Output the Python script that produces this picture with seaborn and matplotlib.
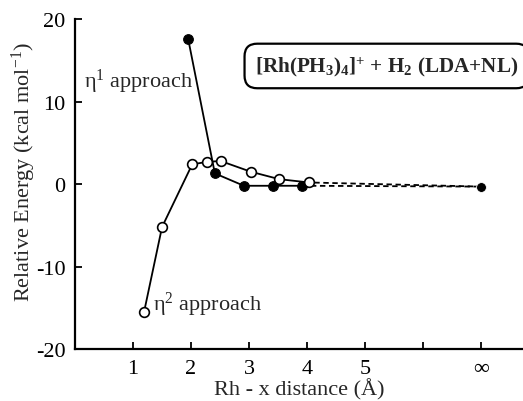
#!/usr/bin/env python3
"""Relative energy of H2 approaching [Rh(PH3)4]+ (eta1 vs eta2)."""

import matplotlib

matplotlib.use("Agg")
import matplotlib.pyplot as plt
import pandas as pd
import seaborn as sns

# eta1 (filled) and eta2 (open) approach curves, x in Angstrom, y in kcal/mol
eta1_x = [1.95, 2.41, 2.91, 3.41, 3.91]
eta1_y = [17.6, 1.3, -0.2, -0.2, -0.2]
eta2_x = [1.19, 1.50, 2.02, 2.28, 2.51, 3.03, 3.52, 4.03]
eta2_y = [-15.5, -5.2, 2.4, 2.7, 2.8, 1.5, 0.6, 0.2]
# separated fragments, drawn at the "infinity" tick
inf_x = 7.0
inf_y = -0.3

tick_pos = [1, 2, 3, 4, 5, 6, 7]
tick_labels = ["1", "2", "3", "4", "5", "", "\u221e"]

sns.set_style("ticks")
plt.rcParams["font.family"] = ["Liberation Serif", "DejaVu Serif"]
plt.rcParams["axes.unicode_minus"] = False
plt.rcParams["mathtext.fontset"] = "custom"
plt.rcParams["mathtext.rm"] = "Liberation Serif"
plt.rcParams["mathtext.it"] = "Liberation Serif:italic"
plt.rcParams["mathtext.bf"] = "Liberation Serif:bold"

eta1 = pd.DataFrame({"x": eta1_x, "y": eta1_y})
eta2 = pd.DataFrame({"x": eta2_x, "y": eta2_y})
tail1 = pd.DataFrame({"x": [eta1_x[-1], inf_x], "y": [eta1_y[-1], inf_y]})
tail2 = pd.DataFrame({"x": [eta2_x[-1], inf_x], "y": [eta2_y[-1], inf_y]})
end = pd.DataFrame({"x": [inf_x], "y": [inf_y]})

fig = plt.figure(figsize=(5.23, 4.02), dpi=100)
ax = fig.add_axes([0.1434, 0.129, 0.8566, 0.821])

line_kw = dict(color="black", linewidth=1.3, sort=False, ax=ax)
sns.lineplot(data=tail1, x="x", y="y", linestyle=(0, (3, 2)), **line_kw)
sns.lineplot(data=tail2, x="x", y="y", linestyle=(2, (3, 2)), **line_kw)
sns.lineplot(data=eta1, x="x", y="y", marker="o", markersize=7,
             markerfacecolor="black", markeredgecolor="black", **line_kw)
sns.lineplot(data=eta2, x="x", y="y", marker="o", markersize=7,
             markerfacecolor="white", markeredgecolor="black",
             markeredgewidth=1.2, **line_kw)
sns.scatterplot(data=end, x="x", y="y", color="black", s=50, ax=ax, zorder=5)

ax.set_xlim(0, 7.72)
ax.set_ylim(-20, 20)
ax.set_xticks(tick_pos)
ax.set_xticklabels(tick_labels)
ax.set_yticks([-20, -10, 0, 10, 20])
ax.tick_params(direction="in", length=5, width=1.3, labelsize=16,
               colors="black", pad=7)
sns.despine(ax=ax)
for side in ("left", "bottom"):
    ax.spines[side].set_linewidth(1.6)
    ax.spines[side].set_color("black")

ax.set_xlabel("Rh - x distance (\u00c5)", fontsize=16, labelpad=0)
ax.set_ylabel("Relative Energy (kcal mol$^{-1}$)", fontsize=16)
ax.yaxis.set_label_coords(-0.083, 0.54)

ax.text(0.155, 12.5, "\u03b7$^1$ approach", fontsize=16, va="center")
ax.text(1.34, -14.5, "\u03b7$^2$ approach", fontsize=16, va="center")
ax.text(0.402, 0.858,
        r"[Rh(PH$_\mathbf{3}$)$_\mathbf{4}$]$^\mathbf{+}$ + H$_\mathbf{2}$ (LDA+NL)",
        transform=ax.transAxes, fontsize=15.2, fontweight="bold", va="center",
        bbox=dict(boxstyle="round,pad=0.5,rounding_size=0.6",
                  facecolor="white", edgecolor="black", linewidth=1.6))

fig.savefig("out.png", dpi=100)
